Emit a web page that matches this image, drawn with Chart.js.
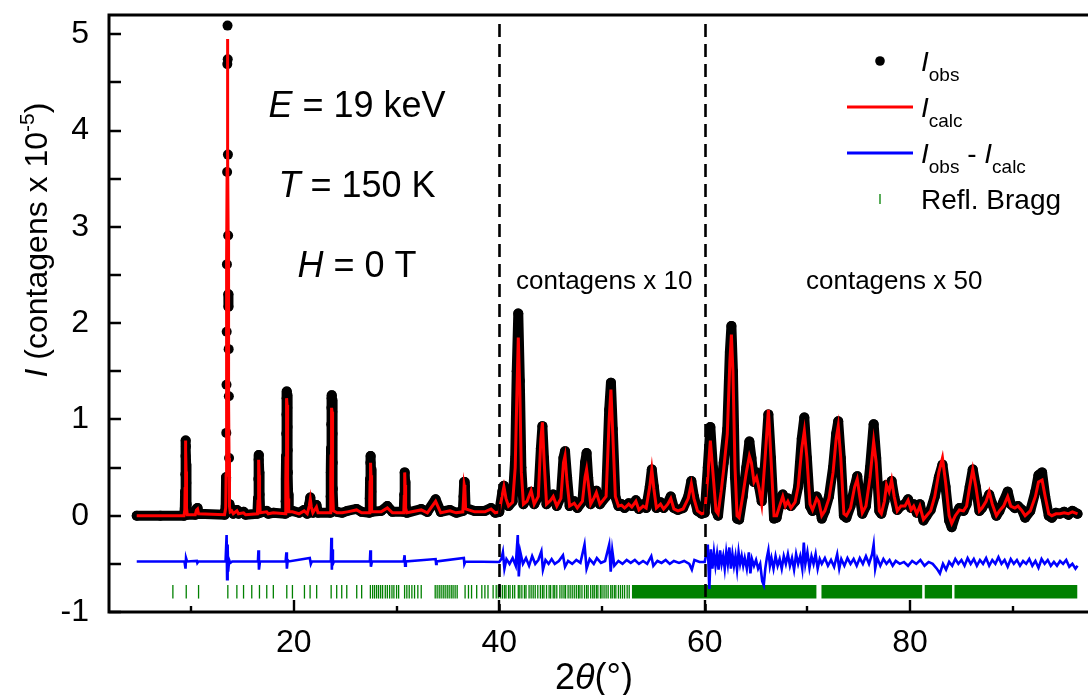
<!DOCTYPE html>
<html lang="pt">
<head>
<meta charset="UTF-8">
<title>Difração de raios X - refinamento</title>
<script src="https://cdn.jsdelivr.net/npm/chart.js@4.4.1/dist/chart.umd.min.js"></script>
<style>
    html, body { margin: 0; padding: 0; background: #fff; overflow: hidden; }
    #wrap { position: relative; width: 1100px; height: 695px; }
</style>
</head>
<body>
<div id="wrap"><canvas id="xrd"></canvas></div>

<script>
// 2theta grid shared by observed and calculated profiles (contagens x 10^-5,
// already multiplied by 10 above 40 deg and by 50 above 60 deg)
const twoTheta = [
    4.7, 7.0, 9.30, 9.38, 9.41, 9.43, 9.45, 9.47, 9.49, 9.51,
    9.53, 9.56, 9.62, 10.40, 10.52, 10.62, 10.72, 13.25, 13.36, 13.40,
    13.42, 13.44, 13.46, 13.48, 13.50, 13.52, 13.54, 13.56, 13.58, 13.60,
    13.62, 13.63, 13.65, 13.67, 13.69, 13.73, 13.80, 13.95, 14.10, 14.45,
    14.60, 15.10, 15.30, 16.45, 16.51, 16.54, 16.57, 16.60, 16.63, 16.66,
    16.72, 17.35, 17.50, 18.00, 19.15, 19.20, 19.22, 19.24, 19.26, 19.28,
    19.30, 19.32, 19.34, 19.36, 19.38, 19.40, 19.42, 19.44, 19.50, 19.86,
    20.50, 21.00, 21.30, 21.50, 21.60, 21.70, 21.85, 22.20, 22.35, 23.55,
    23.58, 23.60, 23.62, 23.64, 23.66, 23.68, 23.70, 23.72, 23.74, 23.76,
    23.78, 23.80, 23.85, 24.20, 24.70, 25.20, 26.10, 26.60, 27.35, 27.39,
    27.42, 27.45, 27.48, 27.51, 27.54, 27.60, 28.50, 29.10, 29.60, 30.70,
    30.75, 30.79, 30.83, 30.88, 31.00, 32.40, 33.00, 33.80, 34.30, 35.20,
    35.80, 36.45, 36.52, 36.58, 36.65, 36.72, 37.60, 38.60, 39.20, 39.60,
    40.00,
    40.30, 40.45, 40.65, 40.90, 41.30, 41.55, 41.70, 41.85, 42.00, 42.15,
    42.35, 42.70, 43.10, 43.40, 43.80, 44.05, 44.20, 44.35, 44.60, 45.00,
    45.25, 45.60, 46.00, 46.25, 46.40, 46.60, 46.85, 47.30, 47.60, 48.10,
    48.35, 48.50, 48.65, 48.90, 49.20, 49.45, 49.80, 50.40, 50.70, 50.87,
    51.05, 51.30, 51.60, 51.90, 52.20, 52.60, 52.90, 53.30, 53.60, 54.00,
    54.30, 54.65, 54.85, 55.05, 55.30, 55.70, 56.00, 56.40, 56.70, 57.00,
    57.40, 57.90, 58.40, 58.70, 58.95, 59.30, 59.70, 60.00,
    60.30, 60.55, 60.80, 61.10, 61.30, 61.60, 61.85, 62.20, 62.45, 62.60,
    62.75, 62.95, 63.15, 63.35, 63.70, 64.05, 64.35, 64.55, 64.80, 65.05,
    65.30, 65.55, 65.85, 66.20, 66.45, 66.75, 67.00, 67.35, 67.60, 67.85,
    68.10, 68.40, 68.80, 69.10, 69.45, 69.70, 69.95, 70.25, 70.50, 70.90,
    71.10, 71.40, 71.70, 72.10, 72.50, 72.80, 73.00, 73.25, 73.55, 73.80,
    74.20, 74.60, 74.85, 75.10, 75.35, 75.70, 76.10, 76.45, 76.70, 77.00,
    77.20, 77.50, 77.70, 77.95, 78.20, 78.45, 78.75, 79.10, 79.50, 79.80,
    80.10, 80.35, 80.65, 80.95, 81.30, 81.60, 82.00, 82.40, 82.80, 83.15,
    83.45, 83.80, 84.05, 84.40, 84.80, 85.20, 85.50, 85.80, 86.10, 86.40,
    86.75, 87.00, 87.40, 87.70, 88.00, 88.40, 88.70, 89.10, 89.50, 89.80,
    90.20, 90.50, 90.90, 91.20, 91.70, 92.20, 92.50, 92.85, 93.15, 93.50,
    93.80, 94.20, 94.60, 95.00, 95.40, 95.80, 96.30
];

const iObs = [
    0.00, 0.00, 0.00, 0.08, 0.25, 0.43, 0.62, 0.78, 0.72, 0.53,
    0.34, 0.12, 0.01, 0.01, 0.07, 0.08, 0.02, 0.01, 0.10, 0.40,
    0.86, 1.36, 1.91, 2.61, 3.57, 4.69, 5.09, 4.74, 3.75, 2.91,
    2.30, 2.17, 1.73, 1.24, 0.60, 0.12, 0.05, 0.07, 0.02, 0.06,
    0.02, 0.04, 0.01, 0.02, 0.18, 0.38, 0.58, 0.63, 0.45, 0.22,
    0.03, 0.05, 0.02, 0.03, 0.02, 0.15, 0.38, 0.62, 0.85, 1.05,
    1.22, 1.29, 1.25, 1.12, 0.92, 0.68, 0.45, 0.22, 0.04, 0.05,
    0.03, 0.06, 0.02, 0.12, 0.19, 0.10, 0.03, 0.11, 0.03, 0.03,
    0.20, 0.45, 0.70, 0.95, 1.12, 1.22, 1.25, 1.20, 1.08, 0.85,
    0.55, 0.28, 0.06, 0.04, 0.03, 0.05, 0.07, 0.04, 0.03, 0.18,
    0.38, 0.55, 0.62, 0.48, 0.25, 0.04, 0.05, 0.10, 0.04, 0.04,
    0.22, 0.45, 0.35, 0.10, 0.03, 0.07, 0.04, 0.17, 0.04, 0.06,
    0.03, 0.05, 0.20, 0.35, 0.30, 0.08, 0.05, 0.05, 0.08, 0.03,
    0.04,
    0.25, 0.31, 0.20, 0.10, 0.15, 0.60, 1.50, 2.10, 1.40, 0.50,
    0.12, 0.18, 0.25, 0.12, 0.20, 0.70, 0.93, 0.60, 0.12, 0.18,
    0.22, 0.10, 0.20, 0.60, 0.67, 0.40, 0.10, 0.15, 0.08, 0.15,
    0.55, 0.65, 0.40, 0.12, 0.20, 0.26, 0.12, 0.20, 1.10, 1.38,
    0.90, 0.20, 0.10, 0.12, 0.08, 0.13, 0.10, 0.16, 0.07, 0.12,
    0.08, 0.30, 0.48, 0.30, 0.08, 0.14, 0.08, 0.13, 0.20, 0.08,
    0.06, 0.08, 0.20, 0.36, 0.20, 0.05, 0.02, 0.03,
    0.50, 0.92, 0.50, 0.05, 0.00, 0.30, 0.55, 0.90, 1.70, 1.97,
    1.50, 0.40, -0.03, -0.04, 0.20, 0.50, 0.77, 0.60, 0.35, 0.45,
    0.30, 0.15, 0.50, 1.05, 0.60, -0.03, -0.02, 0.15, 0.22, 0.12,
    0.18, 0.10, 0.15, 0.30, 0.80, 1.02, 0.60, 0.10, 0.05, 0.20,
    0.15, -0.03, 0.05, 0.20, 0.50, 0.85, 0.98, 0.60, 0.00, -0.02,
    0.10, 0.30, 0.41, 0.20, 0.02, 0.10, 0.50, 0.95, 0.60, 0.05,
    0.02, 0.15, 0.32, 0.26, 0.36, 0.20, 0.06, 0.10, 0.12, 0.17,
    0.08, 0.12, 0.03, 0.12, -0.05, 0.00, 0.06, 0.20, 0.40, 0.53,
    0.30, -0.05, -0.12, 0.00, 0.08, 0.05, 0.12, 0.30, 0.48, 0.30,
    0.05, 0.08, 0.15, 0.22, 0.12, 0.00, 0.05, 0.15, 0.25, 0.12,
    0.08, 0.10, 0.06, -0.02, 0.05, 0.25, 0.42, 0.45, 0.20, 0.00,
    -0.02, 0.03, 0.02, 0.04, 0.01, 0.05, 0.02
];

const iCalc = [
    0.00, 0.00, 0.00, 0.06, 0.28, 0.48, 0.70, 0.78, 0.68, 0.46,
    0.25, 0.08, 0.01, 0.01, 0.06, 0.07, 0.02, 0.01, 0.08, 0.42,
    0.90, 1.40, 1.95, 2.65, 3.60, 4.60, 4.95, 4.60, 3.75, 2.95,
    2.35, 2.10, 1.70, 1.20, 0.60, 0.10, 0.04, 0.05, 0.02, 0.05,
    0.02, 0.03, 0.01, 0.02, 0.15, 0.35, 0.55, 0.58, 0.42, 0.20,
    0.03, 0.04, 0.02, 0.03, 0.02, 0.12, 0.35, 0.60, 0.85, 1.05,
    1.20, 1.22, 1.15, 1.00, 0.80, 0.58, 0.38, 0.18, 0.04, 0.04,
    0.02, 0.05, 0.02, 0.10, 0.17, 0.09, 0.03, 0.09, 0.03, 0.03,
    0.18, 0.40, 0.62, 0.85, 1.00, 1.10, 1.12, 1.08, 0.95, 0.75,
    0.50, 0.25, 0.05, 0.03, 0.03, 0.04, 0.06, 0.03, 0.03, 0.15,
    0.35, 0.52, 0.55, 0.42, 0.22, 0.04, 0.04, 0.08, 0.03, 0.03,
    0.20, 0.45, 0.32, 0.08, 0.03, 0.06, 0.03, 0.15, 0.03, 0.05,
    0.03, 0.04, 0.18, 0.32, 0.28, 0.07, 0.04, 0.04, 0.07, 0.03,
    0.04,
    0.22, 0.30, 0.18, 0.10, 0.14, 0.50, 1.20, 1.85, 1.30, 0.45,
    0.12, 0.15, 0.26, 0.12, 0.20, 0.80, 0.97, 0.60, 0.12, 0.16,
    0.20, 0.10, 0.18, 0.55, 0.62, 0.35, 0.10, 0.13, 0.08, 0.15,
    0.40, 0.48, 0.35, 0.12, 0.18, 0.24, 0.12, 0.20, 1.00, 1.31,
    0.85, 0.20, 0.10, 0.11, 0.08, 0.12, 0.09, 0.15, 0.06, 0.10,
    0.08, 0.30, 0.48, 0.28, 0.08, 0.12, 0.07, 0.12, 0.18, 0.07,
    0.05, 0.07, 0.18, 0.33, 0.18, 0.05, 0.02, 0.03,
    0.40, 0.78, 0.45, 0.05, 0.02, 0.25, 0.48, 0.85, 1.60, 1.88,
    1.50, 0.50, 0.00, -0.02, 0.20, 0.45, 0.62, 0.55, 0.35, 0.40,
    0.28, 0.12, 0.55, 1.10, 0.60, 0.00, 0.00, 0.12, 0.20, 0.10,
    0.15, 0.08, 0.14, 0.30, 0.70, 0.88, 0.60, 0.12, 0.06, 0.18,
    0.15, 0.00, 0.05, 0.18, 0.45, 0.80, 0.93, 0.60, 0.02, 0.00,
    0.08, 0.30, 0.38, 0.20, 0.03, 0.10, 0.40, 0.77, 0.55, 0.05,
    0.02, 0.15, 0.32, 0.25, 0.37, 0.20, 0.05, 0.10, 0.10, 0.16,
    0.06, 0.10, 0.02, 0.10, -0.04, 0.00, 0.05, 0.20, 0.45, 0.60,
    0.35, 0.00, -0.08, 0.00, 0.06, 0.05, 0.10, 0.30, 0.48, 0.30,
    0.05, 0.08, 0.15, 0.25, 0.12, 0.00, 0.05, 0.10, 0.20, 0.10,
    0.08, 0.10, 0.05, 0.00, 0.05, 0.20, 0.35, 0.37, 0.20, 0.02,
    0.00, 0.02, 0.02, 0.03, 0.02, 0.04, 0.02
];

// difference curve Iobs - Icalc, drawn shifted below the profile
const diffTheta = [
    4.7, 9.35, 9.45, 9.50, 9.60, 10.55, 10.60, 10.70, 13.35, 13.45,
    13.50, 13.55, 13.60, 13.70, 13.80, 14.00, 16.50, 16.55, 16.60, 16.70,
    19.20, 19.27, 19.32, 19.40, 19.50, 21.55, 21.65, 21.75, 23.60, 23.65,
    23.70, 23.75, 23.80, 23.90, 27.40, 27.45, 27.50, 27.60, 30.70, 30.78,
    30.83, 30.90, 33.80, 33.85, 33.90, 36.55, 36.60, 36.70, 40.00, 40.20,
    40.35, 40.50, 40.70, 41.00, 41.30, 41.60, 41.80, 41.90, 42.05, 42.30,
    42.60, 42.90, 43.20, 43.50, 43.80, 44.10, 44.25, 44.50, 44.80, 45.10,
    45.40, 45.80, 46.20, 46.40, 46.70, 47.10, 47.50, 47.90, 48.30, 48.50,
    48.80, 49.20, 49.50, 49.90, 50.30, 50.70, 50.85, 51.00, 51.20, 51.60,
    52.00, 52.40, 52.80, 53.20, 53.60, 54.00, 54.40, 54.80, 55.00, 55.40,
    55.80, 56.20, 56.60, 57.00, 57.50, 58.00, 58.50, 58.75, 59.00, 59.50,
    60.00, 60.15, 60.30, 60.45, 60.60, 60.75, 60.90, 61.05, 61.20, 61.35,
    61.50, 61.65, 61.80, 61.95, 62.10, 62.25, 62.40, 62.55, 62.70, 62.85,
    63.00, 63.15, 63.30, 63.45, 63.60, 63.75, 63.90, 64.10, 64.30, 64.45,
    64.60, 64.80, 65.00, 65.20, 65.40, 65.60, 65.75, 65.90, 66.05, 66.20,
    66.35, 66.50, 66.70, 66.90, 67.10, 67.30, 67.50, 67.70, 67.90, 68.10,
    68.30, 68.50, 68.70, 68.90, 69.10, 69.30, 69.50, 69.65, 69.80, 70.00,
    70.20, 70.40, 70.60, 70.80, 71.00, 71.20, 71.40, 71.70, 72.00, 72.30,
    72.60, 72.90, 73.10, 73.30, 73.60, 73.90, 74.20, 74.50, 74.80, 75.10,
    75.40, 75.70, 76.00, 76.30, 76.45, 76.60, 76.80, 77.10, 77.40, 77.70,
    78.00, 78.30, 78.60, 79.00, 79.40, 79.80, 80.20, 80.60, 81.00, 81.40,
    81.80, 82.20, 82.60, 82.90, 83.20, 83.50, 83.80, 84.10, 84.40, 84.70,
    85.00, 85.30, 85.60, 85.90, 86.20, 86.50, 86.80, 87.10, 87.40, 87.70,
    88.00, 88.30, 88.60, 88.90, 89.20, 89.50, 89.80, 90.10, 90.40, 90.70,
    91.00, 91.30, 91.60, 91.90, 92.20, 92.50, 92.80, 93.10, 93.40, 93.70,
    94.00, 94.30, 94.60, 94.90, 95.20, 95.50, 95.80, 96.10, 96.30
];

const diffI = [
    -0.475, -0.475, -0.55, -0.44, -0.475, -0.47, -0.49, -0.475, -0.475, -0.20,
    -0.66, -0.30, -0.58, -0.46, -0.49, -0.475, -0.475, -0.36, -0.56, -0.475,
    -0.475, -0.38, -0.55, -0.46, -0.475, -0.44, -0.50, -0.475, -0.475, -0.23,
    -0.56, -0.35, -0.50, -0.475, -0.475, -0.36, -0.53, -0.475, -0.475, -0.41,
    -0.52, -0.475, -0.45, -0.50, -0.475, -0.44, -0.50, -0.475, -0.48, -0.45,
    -0.38, -0.55, -0.45, -0.50, -0.44, -0.52, -0.20, -0.63, -0.38, -0.50,
    -0.44, -0.52, -0.42, -0.50, -0.46, -0.37, -0.56, -0.46, -0.50, -0.45,
    -0.50, -0.47, -0.41, -0.53, -0.47, -0.50, -0.46, -0.49, -0.30, -0.55,
    -0.45, -0.50, -0.44, -0.49, -0.47, -0.30, -0.58, -0.36, -0.52, -0.47,
    -0.50, -0.46, -0.49, -0.46, -0.50, -0.47, -0.50, -0.42, -0.52, -0.47,
    -0.49, -0.46, -0.50, -0.47, -0.49, -0.47, -0.50, -0.56, -0.46, -0.48,
    -0.48, -0.40, -0.30, -0.76, -0.35, -0.55, -0.38, -0.52, -0.40, -0.56,
    -0.36, -0.50, -0.42, -0.55, -0.38, -0.50, -0.33, -0.55, -0.40, -0.52,
    -0.42, -0.56, -0.38, -0.50, -0.42, -0.52, -0.44, -0.55, -0.38, -0.60,
    -0.45, -0.52, -0.46, -0.55, -0.50, -0.68, -0.72, -0.55, -0.44, -0.36,
    -0.52, -0.44, -0.55, -0.42, -0.52, -0.45, -0.55, -0.42, -0.50, -0.40,
    -0.52, -0.44, -0.56, -0.40, -0.50, -0.42, -0.55, -0.28, -0.50, -0.38,
    -0.54, -0.42, -0.50, -0.40, -0.55, -0.45, -0.50, -0.44, -0.52, -0.46,
    -0.53, -0.40, -0.55, -0.45, -0.52, -0.44, -0.50, -0.45, -0.52, -0.44,
    -0.50, -0.42, -0.50, -0.40, -0.30, -0.55, -0.44, -0.52, -0.45, -0.50,
    -0.46, -0.52, -0.47, -0.50, -0.48, -0.52, -0.47, -0.50, -0.46, -0.52,
    -0.48, -0.50, -0.55, -0.60, -0.50, -0.56, -0.48, -0.52, -0.45, -0.50,
    -0.46, -0.52, -0.44, -0.50, -0.45, -0.52, -0.46, -0.50, -0.44, -0.52,
    -0.46, -0.50, -0.43, -0.50, -0.46, -0.53, -0.45, -0.50, -0.46, -0.52,
    -0.47, -0.50, -0.45, -0.52, -0.47, -0.54, -0.45, -0.50, -0.46, -0.52,
    -0.48, -0.52, -0.47, -0.50, -0.46, -0.53, -0.50, -0.55, -0.52
];

// Bragg reflection positions (deg); above ~53 deg they merge into solid bands
const braggTicks = [
    8.22, 9.52, 10.72, 13.57, 14.45, 15.10, 15.90, 16.65, 17.36, 18.00,
    19.31, 19.86, 21.03, 21.58, 22.22, 23.63, 24.17, 24.66, 25.15, 26.12,
    26.60, 27.45, 27.67, 27.86, 28.06, 28.25, 28.45, 28.64, 28.90, 29.10,
    29.32, 29.55, 29.74, 30.00, 30.20, 30.78, 31.00, 31.23, 31.49, 31.75,
    32.07, 32.40, 33.76, 33.95, 34.15, 34.34, 34.54, 34.73, 34.93, 35.12,
    35.32, 35.50, 35.70, 35.90, 36.67, 37.00, 37.30, 37.80, 38.30, 38.60,
    38.90, 39.40, 39.70, 39.90,
    40.10, 40.30, 40.50, 40.65, 40.90, 41.05, 41.30, 41.50, 41.85, 42.00,
    42.20, 42.45, 42.60, 42.90, 43.10, 43.30, 43.50, 43.75, 44.00, 44.20,
    44.35, 44.60, 44.85, 45.00, 45.25, 45.40, 45.60, 45.90, 46.10, 46.30,
    46.45, 46.70, 46.90, 47.10, 47.30, 47.50, 47.70, 47.85, 48.05, 48.30,
    48.50, 48.65, 48.90, 49.10, 49.25, 49.45, 49.60, 49.85, 50.00, 50.20,
    50.40, 50.60, 50.85, 51.00, 51.20, 51.35, 51.60, 51.80, 52.00, 52.20,
    52.45, 52.65
];
const braggBands = [[52.9, 70.9], [71.35, 81.2], [81.4, 84.1], [84.3, 96.3]];

const xTickLabels = [20, 40, 60, 80];
const yTickLabels = [-1, 0, 1, 2, 3, 4, 5];
const scaleBreaks = [40, 60];

const FONT = "'Liberation Sans', Arial, sans-serif";
const braggTop = -0.72, braggBottom = -0.86;

const zip = (xs, ys) => xs.slice(0, Math.min(xs.length, ys.length)).map((x, i) => ({ x: x, y: ys[i] }));

const bandPoints = [];
braggBands.forEach(([a, b]) => {
    bandPoints.push({ x: a, y: braggTop }, { x: b, y: braggTop }, { x: b, y: null });
});

function fontOf(r) {
    return (r.italic ? 'italic ' : '') + r.size + 'px ' + FONT;
}

// draws a row of text pieces (italic symbols, sub/superscripts)
function drawRuns(ctx, runs, x, y, align) {
    let total = 0;
    runs.forEach(r => { ctx.font = fontOf(r); r.w = ctx.measureText(r.text).width; total += r.w; });
    let cx = align === 'center' ? x - total / 2 : x;
    ctx.textAlign = 'left';
    ctx.textBaseline = 'alphabetic';
    runs.forEach(r => {
        ctx.font = fontOf(r);
        ctx.fillText(r.text, cx, y + (r.shift || 0));
        cx += r.w;
    });
}

// keep the plot box fixed: no extra room for half-height tick labels
function noScalePadding(s) {
    s.paddingTop = 0;
    s.paddingBottom = 0;
    s.paddingLeft = 0;
    s.paddingRight = 0;
}

const decorations = {
    id: 'decorations',
    afterDatasetsDraw(chart) {
        const { ctx, chartArea: a, scales: { x, y } } = chart;
        ctx.save();
        ctx.strokeStyle = '#000';

        // dashed lines where the scale factor changes
        ctx.lineWidth = 2.6;
        ctx.setLineDash([13, 7]);
        scaleBreaks.forEach(v => {
            const px = Math.round(x.getPixelForValue(v)) + 0.5;
            ctx.beginPath();
            ctx.moveTo(px, 24);
            ctx.lineTo(px, a.bottom);
            ctx.stroke();
        });
        ctx.setLineDash([]);

        // frame
        ctx.lineWidth = 3;
        ctx.strokeRect(a.left, a.top, a.right - a.left, a.bottom - a.top);

        // inward ticks
        ctx.lineWidth = 2.4;
        ctx.beginPath();
        for (let v = -1; v <= 5.01; v += 0.5) {
            const py = Math.round(y.getPixelForValue(v));
            ctx.moveTo(a.left, py);
            ctx.lineTo(a.left + 12, py);
        }
        for (let v = 10; v <= 90; v += 10) {
            const px = Math.round(x.getPixelForValue(v));
            ctx.moveTo(px, a.bottom);
            ctx.lineTo(px, a.bottom - (v % 20 === 0 ? 12 : 6));
        }
        ctx.stroke();
        ctx.restore();
    },
    afterDraw(chart) {
        const { ctx } = chart;
        ctx.save();
        ctx.fillStyle = '#000';

        // measurement conditions
        drawRuns(ctx, [{ text: 'E', size: 36, italic: true }, { text: ' = 19 keV', size: 36 }], 357, 117, 'center');
        drawRuns(ctx, [{ text: 'T', size: 36, italic: true }, { text: ' = 150 K', size: 36 }], 357, 197, 'center');
        drawRuns(ctx, [{ text: 'H', size: 36, italic: true }, { text: ' = 0 T', size: 36 }], 357, 277, 'center');

        drawRuns(ctx, [{ text: 'contagens x 10', size: 26 }], 516, 289, 'left');
        drawRuns(ctx, [{ text: 'contagens x 50', size: 26 }], 806, 289, 'left');

        // legend
        const sx = 880, tx = 921, rows = [61, 107, 153, 199];
        ctx.beginPath();
        ctx.arc(sx, rows[0], 4.8, 0, Math.PI * 2);
        ctx.fill();
        ctx.lineWidth = 3;
        ctx.strokeStyle = '#ff0000';
        ctx.beginPath(); ctx.moveTo(847, rows[1]); ctx.lineTo(913, rows[1]); ctx.stroke();
        ctx.strokeStyle = '#0000ff';
        ctx.beginPath(); ctx.moveTo(847, rows[2]); ctx.lineTo(913, rows[2]); ctx.stroke();
        ctx.strokeStyle = '#008000';
        ctx.lineWidth = 1.3;
        ctx.beginPath(); ctx.moveTo(sx, rows[3] - 5); ctx.lineTo(sx, rows[3] + 5); ctx.stroke();

        const L = 28, S = 19;
        drawRuns(ctx, [{ text: 'I', size: L, italic: true }, { text: 'obs', size: S, shift: 10 }], tx, rows[0] + 10, 'left');
        drawRuns(ctx, [{ text: 'I', size: L, italic: true }, { text: 'calc', size: S, shift: 10 }], tx, rows[1] + 10, 'left');
        drawRuns(ctx, [
            { text: 'I', size: L, italic: true }, { text: 'obs', size: S, shift: 10 },
            { text: ' - ', size: L },
            { text: 'I', size: L, italic: true }, { text: 'calc', size: S, shift: 10 }
        ], tx, rows[2] + 10, 'left');
        drawRuns(ctx, [{ text: 'Refl. Bragg', size: L }], tx, rows[3] + 10, 'left');

        // axis titles
        drawRuns(ctx, [
            { text: '2', size: 36 }, { text: 'θ', size: 36, italic: true }, { text: '(°)', size: 36 }
        ], 594, 689, 'center');

        ctx.translate(47, 240);
        ctx.rotate(-Math.PI / 2);
        drawRuns(ctx, [
            { text: 'I', size: 32, italic: true },
            { text: ' (contagens x 10', size: 32 },
            { text: '-5', size: 21, shift: -13 },
            { text: ')', size: 32 }
        ], 0, 0, 'center');
        ctx.restore();
    }
};

new Chart(document.getElementById('xrd'), {
    type: 'scatter',
    data: {
        datasets: [
            {
                label: 'Icalc',
                data: zip(twoTheta, iCalc),
                showLine: true,
                borderColor: '#ff0000',
                borderWidth: 3,
                pointRadius: 0,
                order: 0
            },
            {
                label: 'Iobs - Icalc',
                data: zip(diffTheta, diffI),
                showLine: true,
                borderColor: '#0000ff',
                borderWidth: 2.6,
                pointRadius: 0,
                order: 1
            },
            {
                label: 'Refl. Bragg',
                data: braggTicks.map(p => ({ x: p, y: (braggTop + braggBottom) / 2 })),
                showLine: false,
                pointStyle: 'line',
                rotation: 90,
                radius: 6.8,
                borderColor: '#008000',
                borderWidth: 1.3,
                order: 2
            },
            {
                label: 'bands',
                data: bandPoints,
                showLine: true,
                spanGaps: false,
                borderWidth: 0,
                borderColor: 'rgba(0,0,0,0)',
                backgroundColor: '#008000',
                fill: { value: braggBottom },
                pointRadius: 0,
                order: 2
            },
            {
                label: 'Iobs',
                data: zip(twoTheta, iObs),
                showLine: true,
                borderColor: '#000',
                borderWidth: 10,
                borderJoinStyle: 'round',
                borderCapStyle: 'round',
                pointRadius: 5,
                pointBorderWidth: 0,
                pointBackgroundColor: '#000',
                segment: {
                    // only the very steep flanks of the strongest low-angle peak show separate dots
                    borderColor: c => (c.p0.parsed.x < 40 && Math.abs(c.p1.y - c.p0.y) > 30) ? 'rgba(0,0,0,0)' : undefined
                },
                order: 3
            }
        ]
    },
    options: {
        responsive: true,
        maintainAspectRatio: false,
        animation: false,
        layout: { padding: { top: 15, right: 5, left: 0, bottom: 0 } },
        plugins: {
            legend: { display: false },
            tooltip: { enabled: false },
            filler: { propagate: false }
        },
        scales: {
            x: {
                type: 'linear',
                min: 2,
                max: 97.7,
                grid: { display: false, drawTicks: false },
                border: { display: false },
                afterBuildTicks: s => { s.ticks = xTickLabels.map(v => ({ value: v })); },
                afterFit: s => { s.height = 83; noScalePadding(s); },
                ticks: { font: { family: FONT, size: 32 }, color: '#000', padding: 12, maxRotation: 0 }
            },
            y: {
                min: -1,
                max: 5.2,
                grid: { display: false, drawTicks: false },
                border: { display: false },
                afterBuildTicks: s => { s.ticks = yTickLabels.map(v => ({ value: v })); },
                afterFit: s => { s.width = 109; noScalePadding(s); },
                ticks: { font: { family: FONT, size: 32 }, color: '#000', padding: 20 }
            }
        }
    },
    plugins: [decorations]
});
</script>
</body>
</html>
